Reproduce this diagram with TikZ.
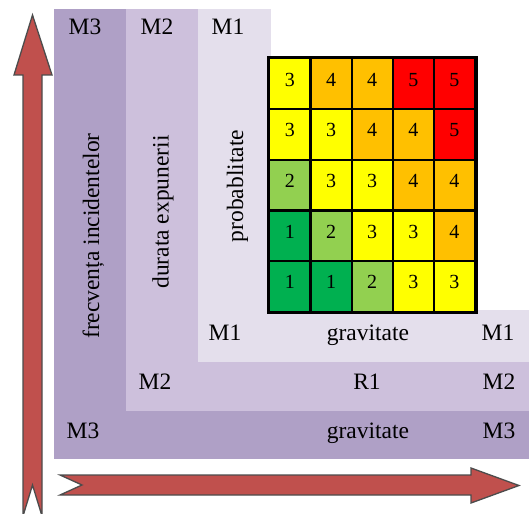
\documentclass[tikz,border=0pt]{standalone}
\usepackage{fontspec}
\setmainfont{Liberation Serif}
\definecolor{bandA}{HTML}{AFA0C6}
\definecolor{bandB}{HTML}{CDC0DC}
\definecolor{bandC}{HTML}{E4DFEC}
\definecolor{arrowred}{HTML}{C0504D}
\definecolor{lev1}{HTML}{00B050}
\definecolor{lev2}{HTML}{92D050}
\definecolor{lev3}{HTML}{FFFF00}
\definecolor{lev4}{HTML}{FFC000}
\definecolor{lev5}{HTML}{FF0000}
\begin{document}
\begin{tikzpicture}[x=1pt,y=-1pt,
  lbl/.style={font=\fontsize{23.5}{28}\selectfont, inner sep=0pt, anchor=base},
  digit/.style={font=\fontsize{20}{24}\selectfont, inner sep=0pt, anchor=base},
  cell/.style={draw=black, line width=2.2pt, minimum width=41.15pt, minimum height=50.7pt, inner sep=0pt},
  bigarrow/.style={fill=arrowred, draw=black!70, line width=1.3pt, line join=miter}]
\useasboundingbox (0,0) rectangle (529,513);
% nested bands M3, M2, M1
\fill[bandA] (54,9) rectangle (529,459);
\fill[bandB] (126,9) rectangle (529,411);
\fill[bandC] (198,9) rectangle (529,362);
\fill[white] (271,0) rectangle (529,310);
% risk matrix
\foreach \row/\vals in {1/{3,4,4,5,5},2/{3,3,4,4,5},3/{2,3,3,4,4},4/{1,2,3,3,4},5/{1,1,2,3,3}} {
  \foreach \v [count=\col] in \vals {
    \node[cell, fill=lev\v] (c-\row-\col) at ({269.3+41.15*(\col-0.5)}, {58.3+50.7*(\row-0.5)}) {};
    \node[digit, yshift=-2.5pt] (d-\row-\col) at (c-\row-\col.center) {\v};
  }
}
\draw[line width=3pt] (c-1-1.north west) rectangle (c-5-5.south east);
% axis block arrows
\draw[bigarrow] (23,516) -- (23,75) -- (14,75) -- (32.5,15) -- (52,75) -- (42,75) -- (42,516) -- (32.5,485) -- cycle;
\draw[bigarrow] (60,475) -- (471,475) -- (471,468) -- (519,485.5) -- (471,503) -- (471,495) -- (60,495) -- (82,485) -- cycle;
% top labels
\node[lbl] (top3) at (85,35) {M3};
\node[lbl] (top2) at (157,35) {M2};
\node[lbl] (top1) at (228,35) {M1};
% vertical labels
\node[lbl, rotate=90] (vert3) at (99,236) {frecvența incidentelor};
\node[lbl, rotate=90] (vert2) at (168.5,212) {durata expunerii};
\node[lbl, rotate=90] (vert1) at (243,186) {probablitate};
% bottom rows
\node[lbl] (b1l) at (225,340) {M1};
\node[lbl] (b1m) at (368,340) {gravitate};
\node[lbl] (b1r) at (498,340) {M1};
\node[lbl] (b2l) at (155,389) {M2};
\node[lbl] (b2m) at (367,389) {R1};
\node[lbl] (b2r) at (499,389) {M2};
\node[lbl] (b3l) at (83,438) {M3};
\node[lbl] (b3m) at (368,438) {gravitate};
\node[lbl] (b3r) at (499,438) {M3};
\end{tikzpicture}
\end{document}
